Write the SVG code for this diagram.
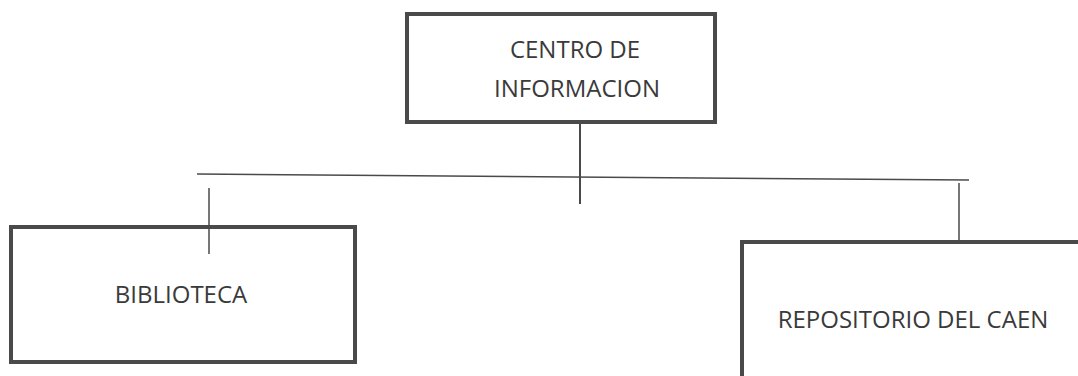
<svg xmlns="http://www.w3.org/2000/svg" width="1078" height="376" viewBox="0 0 1078 376">
<style>
.box{fill:#fff;stroke:#4a4a4a;stroke-width:4}
.lbl{font-family:"Open Sans","Liberation Sans",sans-serif;font-size:24px;fill:#3a3a3a;text-anchor:middle}
.ln{stroke:#4a4a4a;stroke-width:2;fill:none}
.thin{stroke:#4a4a4a;stroke-width:1.5;fill:none}
</style>
<rect width="1078" height="376" fill="#fff"/>
<g id="centro">
<rect class="box" x="407" y="14" width="308" height="108"/>
<text class="lbl" x="575" y="58">CENTRO DE</text>
<text class="lbl" x="577" y="97">INFORMACION</text>
</g>
<g id="biblioteca">
<rect class="box" x="11" y="227" width="344" height="135"/>
<text class="lbl" x="181" y="303">BIBLIOTECA</text>
</g>
<g id="repositorio">
<rect class="box" x="742" y="242" width="340" height="140"/>
<text class="lbl" x="913" y="328">REPOSITORIO DEL CAEN</text>
</g>
<g id="connectors">
<line class="ln" x1="580" y1="124" x2="580" y2="204"/>
<line class="thin" x1="197" y1="174" x2="969" y2="180"/>
<line class="thin" x1="209" y1="188" x2="209" y2="254"/>
<line class="thin" x1="959" y1="183" x2="959" y2="242"/>
</g>
</svg>
